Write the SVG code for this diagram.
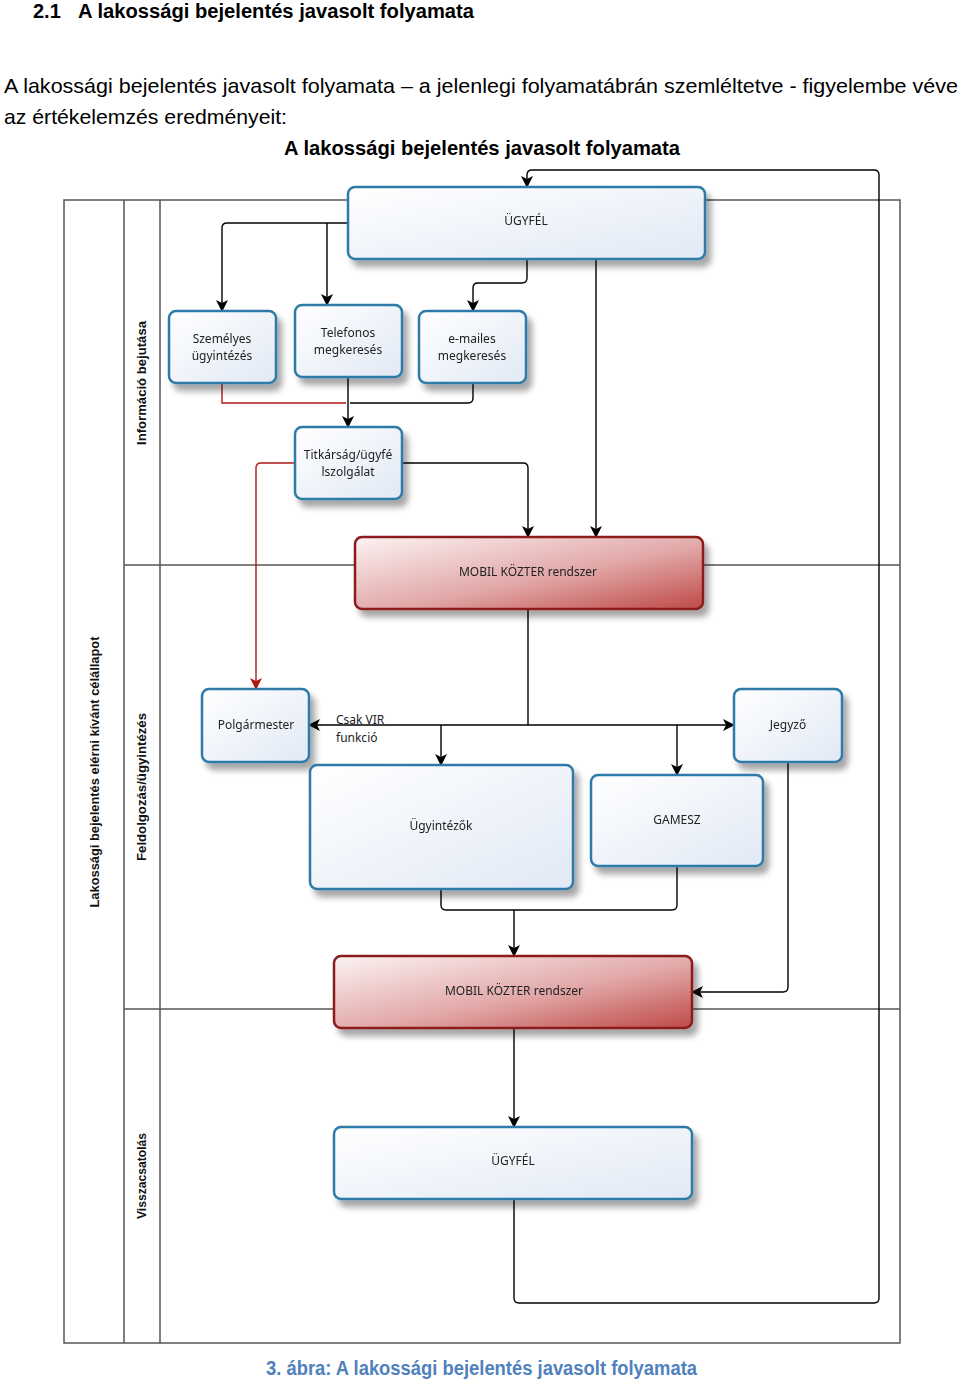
<svg xmlns="http://www.w3.org/2000/svg" width="960" height="1386" viewBox="0 0 960 1386">
<style>
.head{font-family:"Liberation Sans",Arial,sans-serif;fill:#000}
.lane{fill:none;stroke:#555;stroke-width:1.5}
.lbl{font-family:"Liberation Sans",Arial,sans-serif;font-weight:bold;font-size:12px;fill:#111}
.nb{fill:url(#gb);stroke:#2E7AA8;stroke-width:2.5}
.nr{fill:url(#gr);stroke:#8C1C1C;stroke-width:2.5}
.nt{font-family:"Noto Sans","DejaVu Sans",sans-serif;font-size:12px;fill:#222;text-anchor:middle}
.c{fill:none;stroke:#000;stroke-width:1.4}
.cr{fill:none;stroke:#B01818;stroke-width:1.4}
</style>
<defs>
<linearGradient id="gb" x1="0" y1="0" x2="1" y2="1"><stop offset="0" stop-color="#FFFFFF"/><stop offset="1" stop-color="#E1E9F5"/></linearGradient>
<linearGradient id="gr" x1="0" y1="0" x2="1" y2="1"><stop offset="0" stop-color="#FCF3F3"/><stop offset="0.55" stop-color="#E2A8A8"/><stop offset="1" stop-color="#BE4A48"/></linearGradient>
<filter id="sh" x="-10%" y="-10%" width="130%" height="140%"><feGaussianBlur in="SourceAlpha" stdDeviation="3"/><feOffset dx="5" dy="7"/><feComponentTransfer><feFuncA type="linear" slope="0.35"/></feComponentTransfer><feMerge><feMergeNode/><feMergeNode in="SourceGraphic"/></feMerge></filter>
<marker id="a" viewBox="0 0 12 12" refX="11" refY="6" markerWidth="12" markerHeight="12" orient="auto" markerUnits="userSpaceOnUse"><path d="M0,0 L12,6 L0,12 L3,6 z" fill="#000"/></marker>
<marker id="ar" viewBox="0 0 12 12" refX="11" refY="6" markerWidth="12" markerHeight="12" orient="auto" markerUnits="userSpaceOnUse"><path d="M0,0 L12,6 L0,12 L3,6 z" fill="#B01818"/></marker>
</defs>
<rect width="960" height="1386" fill="#fff"/>

<g id="headings">
<text class="head" x="33" y="18" font-size="20" font-weight="bold">2.1</text>
<text class="head" x="78" y="18" font-size="20" font-weight="bold" textLength="396" lengthAdjust="spacingAndGlyphs">A lakossági bejelentés javasolt folyamata</text>
<text class="head" x="4" y="93" font-size="21" textLength="954" lengthAdjust="spacingAndGlyphs">A lakossági bejelentés javasolt folyamata – a jelenlegi folyamatábrán szemléltetve - figyelembe véve</text>
<text class="head" x="4" y="124" font-size="21" textLength="283" lengthAdjust="spacingAndGlyphs">az értékelemzés eredményeit:</text>
<text class="head" x="284" y="155" font-size="21" font-weight="bold" textLength="396" lengthAdjust="spacingAndGlyphs">A lakossági bejelentés javasolt folyamata</text>
<text class="head" x="266" y="1375" font-size="20" font-weight="bold" style="fill:#4F81BD" textLength="431" lengthAdjust="spacingAndGlyphs">3. ábra: A lakossági bejelentés javasolt folyamata</text>
</g>

<g id="pool">
<rect class="lane" x="64" y="200" width="836" height="1143"/>
<line class="lane" x1="124" y1="200" x2="124" y2="1343"/>
<line class="lane" x1="160" y1="200" x2="160" y2="1343"/>
<line class="lane" x1="124" y1="565" x2="900" y2="565"/>
<line class="lane" x1="124" y1="1009" x2="900" y2="1009"/>
<text class="lbl" transform="translate(99,772) rotate(-90)" text-anchor="middle" textLength="271" lengthAdjust="spacingAndGlyphs">Lakossági bejelentés elérni kívánt célállapot</text>
<text class="lbl" transform="translate(146,383) rotate(-90)" text-anchor="middle" textLength="124" lengthAdjust="spacingAndGlyphs">Információ bejutása</text>
<text class="lbl" transform="translate(146,787) rotate(-90)" text-anchor="middle" textLength="148" lengthAdjust="spacingAndGlyphs">Feldolgozás/ügyintézés</text>
<text class="lbl" transform="translate(146,1176) rotate(-90)" text-anchor="middle" textLength="86" lengthAdjust="spacingAndGlyphs">Visszacsatolás</text>
</g>

<g id="connectors">
<path class="c" d="M514,1199 V1298 Q514,1303 519,1303 H874 Q879,1303 879,1298 V175 Q879,170 874,170 H532 Q527,170 527,175 V187" marker-end="url(#a)"/>
<path class="c" d="M348,223 H227 Q222,223 222,228 V311" marker-end="url(#a)"/>
<path class="c" d="M327,223 V305" marker-end="url(#a)"/>
<path class="c" d="M527,259 V278 Q527,283 522,283 H478 Q473,283 473,288 V311" marker-end="url(#a)"/>
<path class="c" d="M596,259 V537" marker-end="url(#a)"/>
<path class="cr" d="M222,383 V403 H346"/>
<path class="c" d="M473,383 V398 Q473,403 468,403 H350"/>
<path class="c" d="M348,377 V427" marker-end="url(#a)"/>
<path class="c" d="M402,463 H523 Q528,463 528,468 V537" marker-end="url(#a)"/>
<path class="cr" d="M295,463 H261 Q256,463 256,468 V689" marker-end="url(#ar)"/>
<path class="c" d="M528,609 V725"/>
<path class="c" d="M528,725 H309" marker-end="url(#a)"/>
<path class="c" d="M528,725 H734" marker-end="url(#a)"/>
<path class="c" d="M441,725 V765" marker-end="url(#a)"/>
<path class="c" d="M677,725 V775" marker-end="url(#a)"/>
<path class="c" d="M441,889 V905 Q441,910 446,910 H672 Q677,910 677,905 V866"/>
<path class="c" d="M514,910 V956" marker-end="url(#a)"/>
<path class="c" d="M788,762 V987 Q788,992 783,992 H692" marker-end="url(#a)"/>
<path class="c" d="M514,1028 V1127" marker-end="url(#a)"/>
<text class="nt" x="336" y="724" style="text-anchor:start">Csak VIR</text>
<text class="nt" x="336" y="742" style="text-anchor:start">funkció</text>
</g>

<g id="ugyfel1" filter="url(#sh)"><rect class="nb" x="348" y="187" width="357" height="72" rx="7"/><text class="nt" x="526" y="225">ÜGYFÉL</text></g>
<g id="szemelyes" filter="url(#sh)"><rect class="nb" x="169" y="311" width="107" height="72" rx="7"/><text class="nt" x="222" y="343">Személyes</text><text class="nt" x="222" y="360">ügyintézés</text></g>
<g id="telefonos" filter="url(#sh)"><rect class="nb" x="295" y="305" width="107" height="72" rx="7"/><text class="nt" x="348" y="337">Telefonos</text><text class="nt" x="348" y="354">megkeresés</text></g>
<g id="emailes" filter="url(#sh)"><rect class="nb" x="419" y="311" width="107" height="72" rx="7"/><text class="nt" x="472" y="343">e-mailes</text><text class="nt" x="472" y="360">megkeresés</text></g>
<g id="titkarsag" filter="url(#sh)"><rect class="nb" x="295" y="427" width="107" height="72" rx="7"/><text class="nt" x="348" y="459">Titkárság/ügyfé</text><text class="nt" x="348" y="476">lszolgálat</text></g>
<g id="mobil1" filter="url(#sh)"><rect class="nr" x="355" y="537" width="348" height="72" rx="7"/><text class="nt" x="528" y="576">MOBIL KÖZTER rendszer</text></g>
<g id="polgarmester" filter="url(#sh)"><rect class="nb" x="202" y="689" width="107" height="73" rx="7"/><text class="nt" x="256" y="729">Polgármester</text></g>
<g id="jegyzo" filter="url(#sh)"><rect class="nb" x="734" y="689" width="108" height="73" rx="7"/><text class="nt" x="788" y="729">Jegyző</text></g>
<g id="ugyintezok" filter="url(#sh)"><rect class="nb" x="310" y="765" width="263" height="124" rx="7"/><text class="nt" x="441" y="830">Ügyintézők</text></g>
<g id="gamesz" filter="url(#sh)"><rect class="nb" x="591" y="775" width="172" height="91" rx="7"/><text class="nt" x="677" y="824">GAMESZ</text></g>
<g id="mobil2" filter="url(#sh)"><rect class="nr" x="334" y="956" width="358" height="72" rx="7"/><text class="nt" x="514" y="995">MOBIL KÖZTER rendszer</text></g>
<g id="ugyfel2" filter="url(#sh)"><rect class="nb" x="334" y="1127" width="358" height="72" rx="7"/><text class="nt" x="513" y="1165">ÜGYFÉL</text></g>
</svg>
